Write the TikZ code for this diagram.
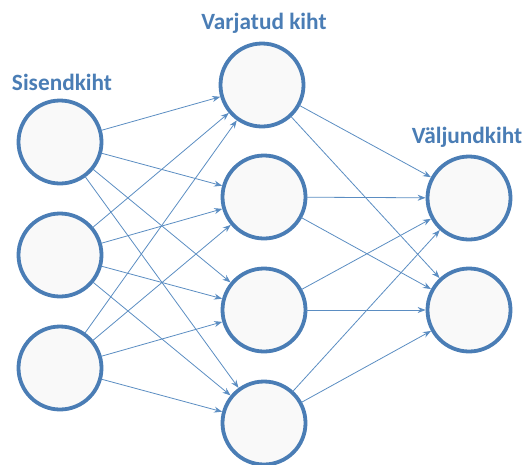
\documentclass[tikz,border=0pt]{standalone}
\usepackage{fontspec}
\setsansfont{Carlito}
\usepackage{tikz}
\usetikzlibrary{arrows.meta, positioning}

\definecolor{nnblue}{HTML}{4A7DB5}
\definecolor{nnedge}{HTML}{5B8DC2}
\definecolor{nnfill}{HTML}{F9F9F9}

\begin{document}
\begin{tikzpicture}[
    x=1pt, y=-1pt,
    neuron/.style={circle, draw=nnblue, line width=3.8pt, fill=nnfill, minimum size=83pt, inner sep=0pt},
    layer/.style={font=\sffamily\bfseries\fontsize{23.3}{27}\selectfont, text=nnblue, inner sep=0pt},
    link/.style={-{Stealth[length=8pt, width=6pt]}, draw=nnedge, line width=0.8pt, shorten <=-1pt}
]
\useasboundingbox (0,0) rectangle (529,464);

% Input layer
\node[neuron] (i1) at (60,142) {};
\node[neuron] (i2) at (60,255) {};
\node[neuron] (i3) at (60,368) {};
\node[layer] (li) at (62,82) {Sisendkiht};

% Hidden layer
\node[neuron] (h1) at (262,85) {};
\node[neuron] (h2) at (264,197) {};
\node[neuron] (h3) at (264,310) {};
\node[neuron] (h4) at (264,423) {};
\node[layer] (lh) at (264,23) {Varjatud kiht};

% Output layer
\node[neuron] (o1) at (469,198) {};
\node[neuron] (o2) at (469,310) {};
\node[layer] (lo) at (467,137) {Väljundkiht};

% Connections
\foreach \a in {1,2,3}
  \foreach \b in {1,2,3,4}
    \draw[link] (i\a) -- (h\b);
\foreach \a in {1,2,3,4}
  \foreach \b in {1,2}
    \draw[link] (h\a) -- (o\b);

\end{tikzpicture}
\end{document}
